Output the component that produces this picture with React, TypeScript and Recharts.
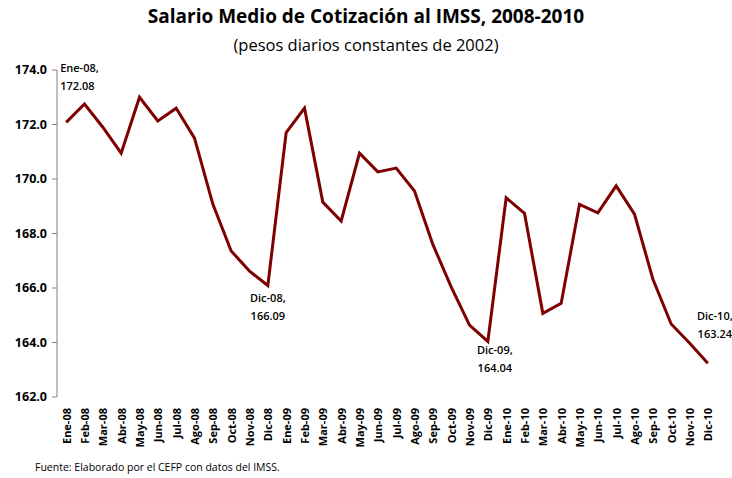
import { Line, LineChart, XAxis, YAxis, LabelList } from "recharts"

const months = [
  "Ene-08", "Feb-08", "Mar-08", "Abr-08", "May-08", "Jun-08", "Jul-08", "Ago-08", "Sep-08", "Oct-08", "Nov-08", "Dic-08",
  "Ene-09", "Feb-09", "Mar-09", "Abr-09", "May-09", "Jun-09", "Jul-09", "Ago-09", "Sep-09", "Oct-09", "Nov-09", "Dic-09",
  "Ene-10", "Feb-10", "Mar-10", "Abr-10", "May-10", "Jun-10", "Jul-10", "Ago-10", "Sep-10", "Oct-10", "Nov-10", "Dic-10",
]

const salario = [
  172.08, 172.75, 171.9, 170.95, 173.0, 172.13, 172.6, 171.5, 169.08, 167.36, 166.62, 166.09,
  171.7, 172.6, 169.15, 168.46, 170.95, 170.26, 170.4, 169.56, 167.6, 166.04, 164.64, 164.04,
  169.31, 168.74, 165.07, 165.44, 169.07, 168.76, 169.75, 168.71, 166.33, 164.68, 163.98, 163.24,
]

const yTicks = [162, 164, 166, 168, 170, 172, 174]
const labeled = ["Ene-08", "Dic-08", "Dic-09", "Dic-10"]

const data = months.map((m, i) => ({ idx: i, name: m, value: salario[i] }))
const halfTicks = Array.from({ length: months.length + 1 }, (_, i) => i - 0.5)

const font = "'Open Sans', sans-serif"

function MonthTick(props: any) {
  const { x, y, payload } = props
  return (
    <text
      x={x}
      y={y}
      transform={`rotate(-90, ${x}, ${y})`}
      textAnchor="end"
      dominantBaseline="central"
      fontSize={11}
      fontWeight={700}
      fontFamily={font}
      fill="#000"
    >
      {months[payload.value]}
    </text>
  )
}

function PointLabel(props: any) {
  const { x, y, index } = props
  const name = months[index]
  if (!labeled.includes(name)) return null
  const val = salario[index].toFixed(2)
  let tx = x
  let ty = y
  let anchor: "start" | "middle" | "end" = "middle"
  if (index === 0) {
    tx = x - 6
    ty = y - 50
    anchor = "start"
  } else if (name === "Dic-08") {
    ty = y + 16
  } else if (name === "Dic-09") {
    tx = x + 7
    ty = y + 13
  } else {
    tx = x + 7
    ty = y - 43
  }
  return (
    <text x={tx} y={ty} textAnchor={anchor} fontSize={11} fontWeight={600} fontFamily={font} fill="#000">
      <tspan x={tx} dy={0}>{name},</tspan>
      <tspan x={tx} dy={18}>{val}</tspan>
    </text>
  )
}

export default function App() {
  return (
    <div style={{ position: "absolute", left: 0, top: 0, width: 732, height: 478, background: "#fff", fontFamily: font }}>
      <div style={{ position: "absolute", top: 3, width: 732, textAlign: "center", fontSize: 19, fontWeight: 700 }}>
        Salario Medio de Cotización al IMSS, 2008-2010
      </div>
      <div style={{ position: "absolute", top: 33, width: 732, textAlign: "center", fontSize: 16.5 }}>
        (pesos diarios constantes de 2002)
      </div>
      <LineChart width={732} height={478} data={data} margin={{ top: 70, right: 15, bottom: 31, left: 7 }}>
        <XAxis
          xAxisId="marks"
          type="number"
          dataKey="idx"
          domain={[-0.5, months.length - 0.5]}
          ticks={halfTicks}
          interval={0}
          height={0}
          tick={() => <g />}
          tickSize={5}
          stroke="#808080"
          axisLine={{ stroke: "#808080" }}
        />
        <XAxis
          xAxisId="lab"
          type="number"
          dataKey="idx"
          domain={[-0.5, months.length - 0.5]}
          ticks={data.map((d) => d.idx)}
          interval={0}
          height={50}
          axisLine={false}
          tickLine={false}
          tick={<MonthTick />}
          tickMargin={5}
        />
        <YAxis
          domain={[162, 174]}
          ticks={yTicks}
          interval={0}
          width={50}
          tickFormatter={(v: number) => v.toFixed(1)}
          tick={{ fontSize: 12.5, fontWeight: 700, fill: "#000", fontFamily: font }}
          tickSize={5}
          tickMargin={5}
          stroke="#808080"
        />
        <Line
          xAxisId="lab"
          type="linear"
          dataKey="value"
          stroke="#7f0000"
          strokeWidth={3}
          dot={false}
          isAnimationActive={false}
        >
          <LabelList dataKey="value" content={<PointLabel />} />
        </Line>
      </LineChart>
      <div style={{ position: "absolute", left: 35, top: 460, fontSize: 10.5 }}>
        Fuente: Elaborado por el CEFP con datos del IMSS.
      </div>
    </div>
  )
}
